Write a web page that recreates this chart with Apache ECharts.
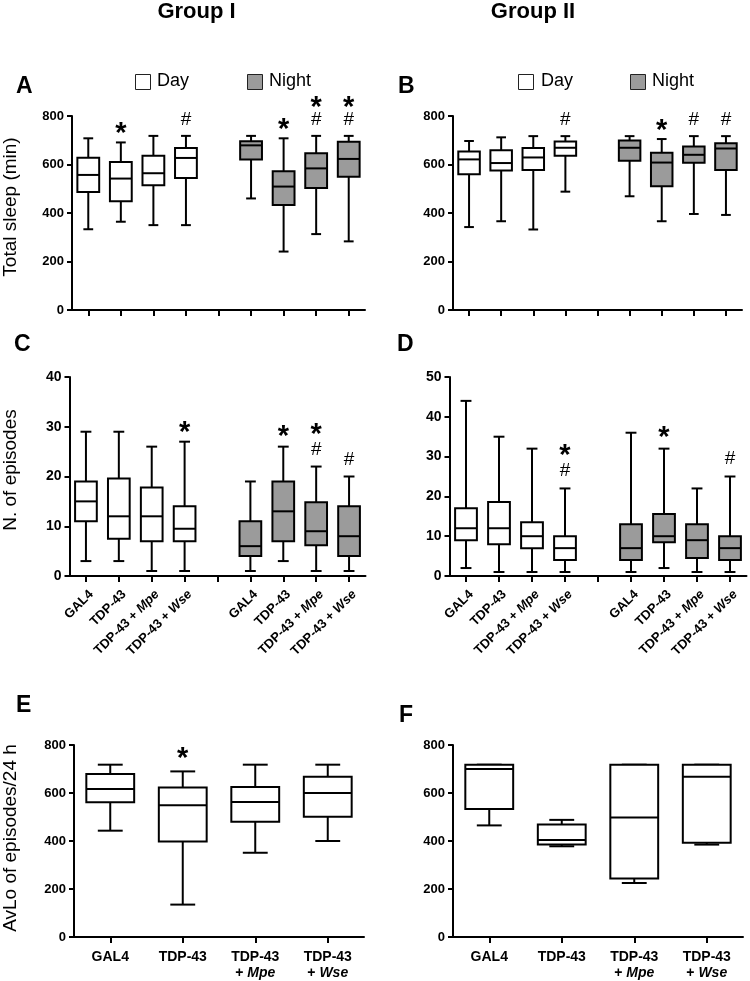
<!DOCTYPE html>
<html>
<head>
<meta charset="utf-8">
<script src="https://cdn.jsdelivr.net/npm/echarts@6/dist/echarts.min.js"></script>
<style>
  html, body { margin: 0; padding: 0; background: #fff; }
  #chart { width: 750px; height: 981px; }
</style>
</head>
<body>
<div id="chart"></div>
<script>
// ---------- categories ----------
const catsTop = ['GAL4', 'TDP-43', 'TDP-43 + Mpe', 'TDP-43 + Wse', '', 'GAL4', 'TDP-43', 'TDP-43 + Mpe', 'TDP-43 + Wse'];
const catsBottom = ['GAL4', 'TDP-43', 'TDP-43\n+ Mpe', 'TDP-43\n+ Wse'];

// ---------- box values: [min, Q1, median, Q3, max] ----------
// A: Group I, total sleep (min)
const A_day   = [[333, 487, 557, 628, 708], [364, 448, 542, 610, 691], [350, 514, 564, 636, 718], [350, 544, 627, 668, 718]];
const A_night = [[460, 621, 679, 696, 718], [241, 433, 509, 572, 708], [313, 503, 584, 646, 718], [283, 550, 623, 694, 718]];
const A_dayMarks = ['', '*', '', '#'];
const A_nightMarks = ['', '*', '*#', '*#'];

// B: Group II, total sleep (min)
const B_day   = [[342, 560, 621, 654, 697], [366, 575, 606, 659, 712], [332, 577, 629, 668, 717], [488, 636, 669, 695, 717]];
const B_night = [[469, 615, 669, 699, 717], [366, 510, 608, 648, 705], [396, 607, 640, 674, 717], [392, 577, 666, 688, 717]];
const B_dayMarks = ['', '', '', '#'];
const B_nightMarks = ['', '*', '#', '#'];

// C: Group I, number of episodes
const C_day   = [[3, 11, 15, 19, 29], [3, 7.5, 12, 19.6, 29], [1, 7, 12, 17.8, 26], [1, 7, 9.5, 14, 27]];
const C_night = [[1, 4, 6, 11, 19], [3, 7, 13, 19, 26], [1, 6.2, 9, 14.8, 22], [1, 4, 8, 14, 20]];
const C_dayMarks = ['', '', '', '*'];
const C_nightMarks = ['', '*', '*#', '#'];

// D: Group II, number of episodes
const D_day   = [[2, 9, 12, 17, 44], [1, 8, 12, 18.6, 35], [1, 7, 10, 13.5, 32], [1, 4, 7, 10, 22]];
const D_night = [[1, 4, 7, 13, 36], [2, 8.5, 10, 15.6, 32], [1, 4.5, 9, 13, 22], [1, 4, 7, 10, 25]];
const D_dayMarks = ['', '', '', '*#'];
const D_nightMarks = ['', '*', '', '#'];

// E: Group I, AvLo of episodes / 24 h
const E_vals = [[443, 561, 617, 679, 718], [135, 398, 549, 623, 690], [351, 480, 562, 625, 718], [400, 501, 600, 668, 718]];
const E_marks = ['', '*', '', ''];

// F: Group II, AvLo of episodes / 24 h
const F_vals = [[465, 533, 700, 718, 718], [378, 385, 404, 469, 488], [225, 244, 498, 718, 718], [385, 393, 668, 718, 718]];
const F_marks = ['', '', '', ''];

// ---------- tick labels ----------
const ticksSleep = [0, 200, 400, 600, 800];
const ticksEpC = [0, 10, 20, 30, 40];
const ticksEpD = [0, 10, 20, 30, 40, 50];

// ---------- styling ----------
const FONT = '"Liberation Sans", Arial, Helvetica, sans-serif';
const BLACK = '#000';
const GRAY = '#9b9b9b';
const WHITE = '#ffffff';

function makeRenderer(marks, fill, widthRatio, capRatio, gap, step) {
  return function (params, api) {
    const x = api.value(0);
    const band = api.size([1, 0])[0];
    const bw = band * widthRatio, half = bw / 2, cap = bw * capRatio / 2;
    const pMin = api.coord([x, api.value(1)]);
    const pQ1 = api.coord([x, api.value(2)]);
    const pMed = api.coord([x, api.value(3)]);
    const pQ3 = api.coord([x, api.value(4)]);
    const pMax = api.coord([x, api.value(5)]);
    const cx = pMed[0];
    const ls = { stroke: BLACK, lineWidth: 2 };
    const children = [
      { type: 'line', shape: { x1: cx, y1: pMax[1], x2: cx, y2: pQ3[1] }, style: ls },
      { type: 'line', shape: { x1: cx, y1: pQ1[1], x2: cx, y2: pMin[1] }, style: ls },
      { type: 'line', shape: { x1: cx - cap, y1: pMax[1], x2: cx + cap, y2: pMax[1] }, style: ls },
      { type: 'line', shape: { x1: cx - cap, y1: pMin[1], x2: cx + cap, y2: pMin[1] }, style: ls },
      { type: 'rect', shape: { x: cx - half, y: pQ3[1], width: bw, height: pQ1[1] - pQ3[1] },
        style: { fill: fill, stroke: BLACK, lineWidth: 2 } },
      { type: 'line', shape: { x1: cx - half, y1: pMed[1], x2: cx + half, y2: pMed[1] }, style: ls }
    ];
    const m = marks[params.dataIndex] || '';
    let y = pMax[1] - gap;
    if (m.indexOf('#') >= 0) {
      children.push({ type: 'text', style: { text: '#', x: cx, y: y, fill: BLACK,
        font: 'normal 19px ' + FONT, align: 'center', verticalAlign: 'middle',
        textAlign: 'center', textVerticalAlign: 'middle' } });
      y -= step;
    }
    if (m.indexOf('*') >= 0) {
      const fs = 29;
      children.push({ type: 'text', style: { text: '*', x: cx, y: y + fs * 0.27, fill: BLACK,
        font: 'bold ' + fs + 'px ' + FONT, align: 'center', verticalAlign: 'middle',
        textAlign: 'center', textVerticalAlign: 'middle' } });
    }
    return { type: 'group', children: children };
  };
}

function richFormatter(v) {
  return v.replace(/(Mpe|Wse)/, '{i|$1}');
}

const panels = [
  { grid: { left: 72, top: 116, width: 293, height: 194 }, cats: catsTop, labels: false, rotate: 0, xfs: 13, xm: 10,
    ticks: ticksSleep, lfs: 13, wr: 0.67, cr: 0.45, gap: 16, step: 20,
    groups: [[A_day, A_dayMarks, 0, WHITE], [A_night, A_nightMarks, 5, GRAY]] },
  { grid: { left: 453, top: 116, width: 289, height: 194 }, cats: catsTop, labels: false, rotate: 0, xfs: 13, xm: 10,
    ticks: ticksSleep, lfs: 13, wr: 0.67, cr: 0.45, gap: 16, step: 20,
    groups: [[B_day, B_dayMarks, 0, WHITE], [B_night, B_nightMarks, 5, GRAY]] },
  { grid: { left: 69.5, top: 377, width: 296, height: 199 }, cats: catsTop, labels: true, rotate: 45, xfs: 13, xm: 11,
    ticks: ticksEpC, lfs: 14, wr: 0.66, cr: 0.5, gap: 17, step: 22,
    groups: [[C_day, C_dayMarks, 0, WHITE], [C_night, C_nightMarks, 5, GRAY]] },
  { grid: { left: 449.5, top: 377, width: 297, height: 199 }, cats: catsTop, labels: true, rotate: 45, xfs: 13, xm: 11,
    ticks: ticksEpD, lfs: 14, wr: 0.66, cr: 0.5, gap: 18, step: 22,
    groups: [[D_day, D_dayMarks, 0, WHITE], [D_night, D_nightMarks, 5, GRAY]] },
  { grid: { left: 74, top: 745, width: 290, height: 194 }, cats: catsBottom, labels: true, rotate: 0, xfs: 14, xm: 12,
    ticks: ticksSleep, lfs: 13, wr: 0.66, cr: 0.52, gap: 20, step: 22,
    groups: [[E_vals, E_marks, 0, WHITE]] },
  { grid: { left: 453, top: 745, width: 290, height: 194 }, cats: catsBottom, labels: true, rotate: 0, xfs: 14, xm: 12,
    ticks: ticksSleep, lfs: 13, wr: 0.66, cr: 0.52, gap: 20, step: 22,
    groups: [[F_vals, F_marks, 0, WHITE]] }
];

const grids = [], xAxes = [], yAxes = [], series = [];
panels.forEach(function (p, i) {
  grids.push(Object.assign({ containLabel: false }, p.grid));
  const xLabel = {
    show: p.labels, interval: 0, rotate: p.rotate, margin: p.xm,
    color: BLACK, fontFamily: FONT, fontWeight: 'bold', fontSize: p.xfs, lineHeight: p.xfs + 2,
    formatter: richFormatter,
    rich: { i: { fontStyle: 'italic', fontWeight: 'bold', fontSize: p.xfs, fontFamily: FONT, color: BLACK, lineHeight: p.xfs + 2 } }
  };
  if (p.rotate) { xLabel.verticalAlign = 'top'; }
  xAxes.push({
    type: 'category', gridIndex: i, data: p.cats, boundaryGap: true,
    axisLine: { show: true, onZero: false, lineStyle: { color: BLACK, width: 2 } },
    axisTick: { show: true, alignWithLabel: true, interval: 0, length: 6, lineStyle: { color: BLACK, width: 2 } },
    axisLabel: xLabel,
    splitLine: { show: false }
  });
  const t = p.ticks;
  yAxes.push({
    type: 'value', gridIndex: i, min: t[0], max: t[t.length - 1], interval: t[1] - t[0],
    axisLine: { show: true, lineStyle: { color: BLACK, width: 2 } },
    axisTick: { show: true, length: 5, lineStyle: { color: BLACK, width: 2 } },
    axisLabel: { color: BLACK, fontFamily: FONT, fontWeight: 'bold', fontSize: p.lfs, margin: 8 },
    splitLine: { show: false }
  });
  p.groups.forEach(function (g) {
    const vals = g[0], marks = g[1], offset = g[2], fill = g[3];
    series.push({
      type: 'custom', xAxisIndex: i, yAxisIndex: i, silent: true, clip: false,
      encode: { x: 0, y: [1, 2, 3, 4, 5] },
      data: vals.map(function (v, k) { return [k + offset].concat(v); }),
      renderItem: makeRenderer(marks, fill, p.wr, p.cr, p.gap, p.step)
    });
  });
});

function txt(text, x, y, size, weight, extra) {
  return Object.assign({
    type: 'text', x: x, y: y, silent: true,
    style: { text: text, fill: BLACK, font: weight + ' ' + size + 'px ' + FONT,
      align: 'center', verticalAlign: 'middle', textAlign: 'center', textVerticalAlign: 'middle' }
  }, extra || {});
}
function legendBox(x, y, fill) {
  return { type: 'rect', silent: true, shape: { x: x, y: y, width: 15, height: 15 },
    style: { fill: fill, stroke: '#222', lineWidth: 1 } };
}
function leftTxt(text, x, y, size, weight) {
  const t = txt(text, x, y, size, weight);
  t.style.align = 'left'; t.style.textAlign = 'left';
  return t;
}

const graphics = [
  txt('Group I', 196.5, 12, 22, 'bold'),
  txt('Group II', 533, 12, 22, 'bold'),
  leftTxt('A', 16, 87, 23, 'bold'),
  leftTxt('B', 398, 87, 23, 'bold'),
  leftTxt('C', 14, 345, 23, 'bold'),
  leftTxt('D', 397, 345, 23, 'bold'),
  leftTxt('E', 16, 706, 23, 'bold'),
  leftTxt('F', 399, 716, 23, 'bold'),
  legendBox(135.5, 74.5, WHITE), leftTxt('Day', 157, 81, 18, 'normal'),
  legendBox(247.5, 74.5, GRAY), leftTxt('Night', 269, 81, 18, 'normal'),
  legendBox(518.5, 74.5, WHITE), leftTxt('Day', 541, 81, 18, 'normal'),
  legendBox(630.5, 74.5, GRAY), leftTxt('Night', 652, 81, 18, 'normal'),
  txt('Total sleep (min)', 11, 207, 19, 'normal', { rotation: Math.PI / 2 }),
  txt('N. of episodes', 11, 470, 19, 'normal', { rotation: Math.PI / 2 }),
  txt('AvLo of episodes/24 h', 11, 838, 19, 'normal', { rotation: Math.PI / 2 })
];

const chart = echarts.init(document.getElementById('chart'), null, { renderer: 'canvas' });
chart.setOption({
  backgroundColor: '#ffffff',
  animation: false,
  tooltip: { show: false },
  grid: grids,
  xAxis: xAxes,
  yAxis: yAxes,
  series: series,
  graphic: graphics
});
</script>
</body>
</html>
